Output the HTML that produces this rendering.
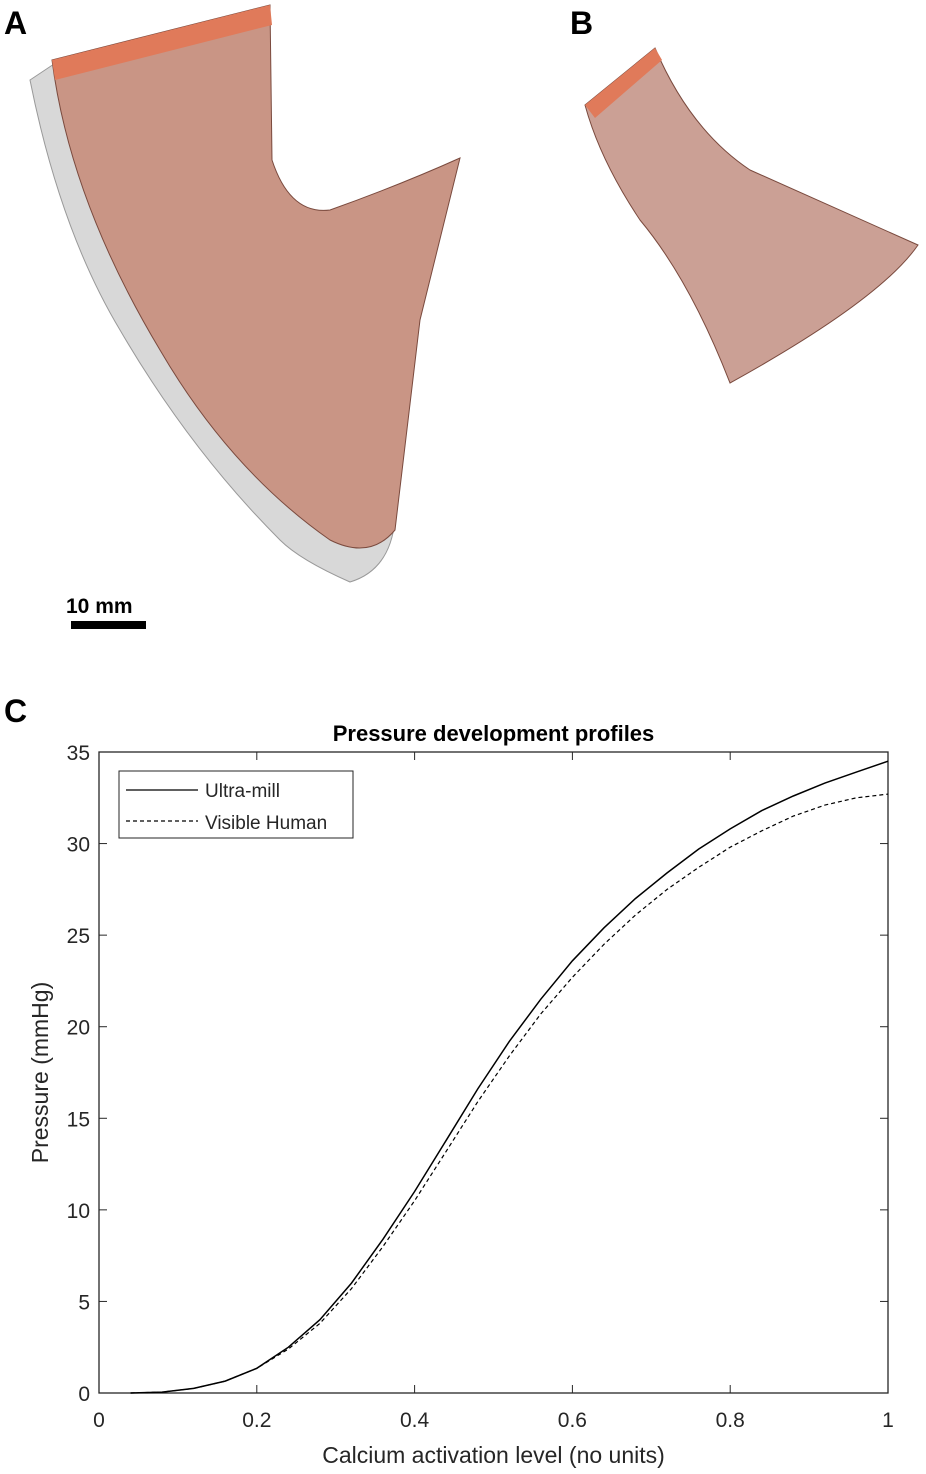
<!DOCTYPE html>
<html><head><meta charset="utf-8"><style>
body{margin:0;background:#fff;width:926px;height:1474px;overflow:hidden;font-family:"Liberation Sans",Arial,sans-serif}
svg{position:absolute;left:0;top:0}
</style></head><body>
<svg width="926" height="1474">
<g>
<text x="4" y="34" font-size="32" font-weight="bold">A</text>
<path d="M30 80 L60 60 L95 70 Q140 130 170 200 Q250 260 330 330 L395 520 Q390 570 350 582 Q300 560 280 540 Q190 450 120 330 Q60 230 30 80Z" fill="#d8d8d8" stroke="#999"/>
<path d="M52 60 L270 5 L272 160 Q290 215 330 210 Q400 185 460 158 L420 320 L395 530 Q370 560 330 540 Q230 470 160 350 Q70 200 52 60Z" fill="#c99585" stroke="#7a4a3e"/>
<path d="M52 60 L270 5 L272 25 L55 80Z" fill="#e07a5a"/>
</g>
<g>
<text x="570" y="34" font-size="32" font-weight="bold">B</text>
<path d="M585 105 L655 48 Q690 130 750 170 Q850 215 918 245 Q880 300 730 383 Q690 280 640 220 Q600 160 585 105Z" fill="#cba095" stroke="#7a4a3e"/>
<path d="M585 105 L655 48 L662 60 L595 118Z" fill="#e07a5a"/>
</g>
<text x="66" y="613" font-size="21" font-weight="bold">10 mm</text>
<rect x="71" y="621" width="75" height="8" fill="#000"/>
<text x="4" y="722" font-size="32" font-weight="bold">C</text>
<g id="chart"></g>
</svg>
<script>
const xs=[0.04,0.08,0.12,0.16,0.2,0.24,0.28,0.32,0.36,0.4,0.44,0.48,0.52,0.56,0.6,0.64,0.68,0.72,0.76,0.8,0.84,0.88,0.92,0.96,1];
const ultraMill=[0,0.05,0.25,0.65,1.35,2.5,4.0,6.0,8.4,11.0,13.8,16.6,19.2,21.5,23.6,25.4,27.0,28.4,29.7,30.8,31.8,32.6,33.3,33.9,34.5];
const visibleHuman=[0,0.05,0.25,0.65,1.35,2.4,3.8,5.7,8.0,10.5,13.2,15.9,18.4,20.7,22.7,24.5,26.1,27.5,28.7,29.8,30.7,31.5,32.1,32.5,32.7];
const xTicks=[0,0.2,0.4,0.6,0.8,1];
const xTickLabels=["0","0.2","0.4","0.6","0.8","1"];
const yTicks=[0,5,10,15,20,25,30,35];
const L=99,R=888,T=752,B=1393;
const X=v=>L+v*(R-L), Y=v=>B-v/35*(B-T);
const g=document.getElementById('chart');
const NS='http://www.w3.org/2000/svg';
function mk(t,a,txt){const e=document.createElementNS(NS,t);for(const k in a)e.setAttribute(k,a[k]);if(txt!=null)e.textContent=txt;g.appendChild(e);return e;}
let e=mk('rect',{x:L,y:T,width:R-L,height:B-T,fill:'none',stroke:'#262626','stroke-width':1.3});


xTicks.forEach((t,i)=>{
 let a=mk('line',{x1:X(t),x2:X(t),y1:B,y2:B-8,stroke:'#262626'});
 
 
 let b=mk('line',{x1:X(t),x2:X(t),y1:T,y2:T+8,stroke:'#262626'});
 
 
 let s=mk('text',{x:X(t),y:B+34,'font-size':21,'text-anchor':'middle',fill:'#262626'},xTickLabels[i]);
 
 
});
yTicks.forEach(t=>{
 let a=mk('line',{x1:L,x2:L+8,y1:Y(t),y2:Y(t),stroke:'#262626'});
 
 
 let b=mk('line',{x1:R,x2:R-8,y1:Y(t),y2:Y(t),stroke:'#262626'});
 
 
 let s=mk('text',{x:L-9,y:Y(t)+8,'font-size':21,'text-anchor':'end',fill:'#262626'},String(t));
 
 
});
const pts=arr=>xs.map((x,i)=>X(x).toFixed(1)+','+Y(arr[i]).toFixed(1)).join(' ');
let p1=mk('polyline',{points:pts(ultraMill),fill:'none',stroke:'#000','stroke-width':1.5});


let p2=mk('polyline',{points:pts(visibleHuman),fill:'none',stroke:'#000','stroke-width':1.2,'stroke-dasharray':'4,3'});


let t1=mk('text',{x:(L+R)/2,y:741,'font-size':22,'font-weight':'bold','text-anchor':'middle'},'Pressure development profiles');


let t2=mk('text',{x:(L+R)/2,y:1463,'font-size':23,'text-anchor':'middle',fill:'#262626'},'Calcium activation level (no units)');


let t3=mk('text',{x:48,y:(T+B)/2,'font-size':23,'text-anchor':'middle',fill:'#262626',transform:'rotate(-90 48 '+(T+B)/2+')'},'Pressure (mmHg)');


let lg=mk('rect',{x:119,y:771,width:234,height:67,fill:'#fff',stroke:'#262626'});


let l1=mk('line',{x1:126,x2:198,y1:790,y2:790,stroke:'#000','stroke-width':1.3});


let l2=mk('line',{x1:126,x2:198,y1:821,y2:821,stroke:'#000','stroke-width':1.2,'stroke-dasharray':'4,3'});


let lt1=mk('text',{x:205,y:797,'font-size':19,fill:'#262626'},'Ultra-mill');


let lt2=mk('text',{x:205,y:829,'font-size':19,fill:'#262626'},'Visible Human');


</script>
</body></html>
